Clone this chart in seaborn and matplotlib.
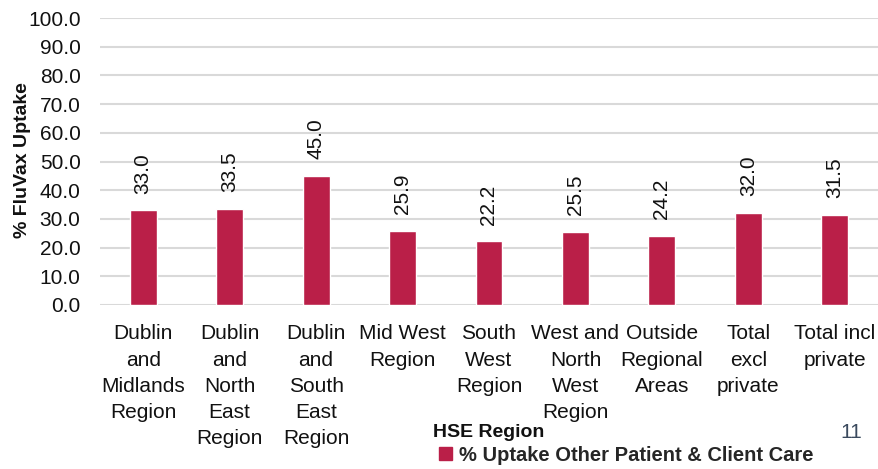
import matplotlib
matplotlib.use("Agg")
import matplotlib.pyplot as plt
import seaborn as sns
import pandas as pd

categories = ["Dublin\nand\nMidlands\nRegion", "Dublin\nand\nNorth\nEast\nRegion",
              "Dublin\nand\nSouth\nEast\nRegion", "Mid West\nRegion", "South\nWest\nRegion",
              "West and\nNorth\nWest\nRegion", "Outside\nRegional\nAreas",
              "Total\nexcl\nprivate", "Total incl\nprivate"]
values = [33.0, 33.5, 45.0, 25.9, 22.2, 25.5, 24.2, 32.0, 31.5]
series_name = "% Uptake Other Patient & Client Care"
y_ticks = [0, 10, 20, 30, 40, 50, 60, 70, 80, 90, 100]

sns.set_theme(style="white")
plt.rcParams['font.family'] = ['Liberation Sans', 'DejaVu Sans']

df = pd.DataFrame({"cat": categories, "val": values, "series": series_name})

W, H = 879, 469
fig = plt.figure(figsize=(W / 100, H / 100), dpi=100)
ax = fig.add_axes([100 / W, 1 - 305 / H, 778 / W, 287 / H])

bar_color = "#BA1F48"
sns.barplot(data=df, x="cat", y="val", hue="series", palette=[bar_color],
            width=0.31, ax=ax, saturation=1, legend=True)

ax.set_ylim(0, 100)
ax.set_xlim(-0.5, len(categories) - 0.5)
ax.set_yticks(y_ticks)
ax.set_yticklabels([f"{t:.1f}" for t in y_ticks], fontsize=15, color="#111111")
ax.yaxis.grid(True, color="#D9D9D9", linewidth=1.5)
ax.set_axisbelow(True)
for s in ax.spines.values():
    s.set_visible(False)
ax.tick_params(axis="y", length=0, pad=14)
ax.tick_params(axis="x", length=0, pad=14)
for lbl in ax.get_xticklabels():
    lbl.set_fontsize(15)
    lbl.set_linespacing(1.48)
    lbl.set_color("#111111")
    lbl.set_verticalalignment("top")

for cont in ax.containers:
    ax.bar_label(cont, labels=[f"{v:.1f}" for v in values], rotation=90,
                 padding=12, fontsize=15, color="#111111")

ax.set_xlabel("")
ax.set_ylabel("")
fig.text(23 / W, 1 - 160 / H, "% FluVax Uptake", rotation=90, fontsize=14,
         fontweight="bold", ha="center", va="center", color="#111111")
fig.text(433 / W, 1 - 432 / H, "HSE Region", fontsize=14, fontweight="bold",
         ha="left", va="center", color="#111111")
fig.text(840 / W, 1 - 432 / H, "11", fontsize=15, ha="left", va="center",
         color="#3B4A5E")

leg = ax.get_legend()
leg.remove()
handles = [plt.Rectangle((0, 0), 1, 1, color=bar_color)]
fig.legend(handles, [series_name], loc="center left",
           bbox_to_anchor=(439 / W, 1 - 455 / H), frameon=False,
           handlelength=0.65, handleheight=0.65, handletextpad=0.35,
           prop={"size": 14.5, "weight": "bold"}, borderaxespad=0, borderpad=0)

fig.savefig("out.png", dpi=100)
